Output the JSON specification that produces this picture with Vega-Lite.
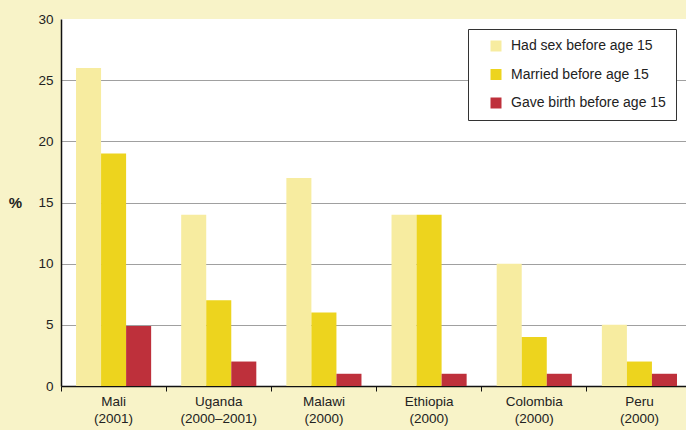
{
  "$schema": "https://vega.github.io/schema/vega-lite/v6.json",
  "autosize": {"type": "none"},
  "width": 625,
  "height": 367,
  "padding": {"left": 61, "top": 19, "right": 0, "bottom": 44},
  "background": "#F8F3C8",
  "config": {
    "view": {"fill": "white", "stroke": null},
    "font": "Liberation Sans"
  },
  "data": {
    "values": [
      {"country": "Mali\n(2001)", "measure": "Had sex before age 15", "value": 26},
      {"country": "Mali\n(2001)", "measure": "Married before age 15", "value": 19},
      {"country": "Mali\n(2001)", "measure": "Gave birth before age 15", "value": 4.9},
      {"country": "Uganda\n(2000–2001)", "measure": "Had sex before age 15", "value": 14},
      {"country": "Uganda\n(2000–2001)", "measure": "Married before age 15", "value": 7},
      {"country": "Uganda\n(2000–2001)", "measure": "Gave birth before age 15", "value": 2},
      {"country": "Malawi\n(2000)", "measure": "Had sex before age 15", "value": 17},
      {"country": "Malawi\n(2000)", "measure": "Married before age 15", "value": 6},
      {"country": "Malawi\n(2000)", "measure": "Gave birth before age 15", "value": 1},
      {"country": "Ethiopia\n(2000)", "measure": "Had sex before age 15", "value": 14},
      {"country": "Ethiopia\n(2000)", "measure": "Married before age 15", "value": 14},
      {"country": "Ethiopia\n(2000)", "measure": "Gave birth before age 15", "value": 1},
      {"country": "Colombia\n(2000)", "measure": "Had sex before age 15", "value": 10},
      {"country": "Colombia\n(2000)", "measure": "Married before age 15", "value": 4},
      {"country": "Colombia\n(2000)", "measure": "Gave birth before age 15", "value": 1},
      {"country": "Peru\n(2000)", "measure": "Had sex before age 15", "value": 5},
      {"country": "Peru\n(2000)", "measure": "Married before age 15", "value": 2},
      {"country": "Peru\n(2000)", "measure": "Gave birth before age 15", "value": 1}
    ]
  },
  "mark": {"type": "bar"},
  "encoding": {
    "x": {
      "field": "country",
      "type": "nominal",
      "sort": null,
      "scale": {"range": [0, 631], "paddingInner": 0, "paddingOuter": 0},
      "axis": {
        "title": null,
        "labelAngle": 0,
        "labelExpr": "split(datum.label, '\\n')",
        "labelFontSize": 13.5,
        "labelLineHeight": 17.5,
        "labelColor": "#222",
        "labelBaseline": "top",
        "labelPadding": 3,
        "bandPosition": 0,
        "tickSize": 5,
        "tickColor": "#111",
        "domainColor": "#111",
        "domainWidth": 1.5,
        "labelOverlap": false
      }
    },
    "xOffset": {
      "field": "measure",
      "type": "nominal",
      "sort": ["Had sex before age 15", "Married before age 15", "Gave birth before age 15"],
      "scale": {"paddingInner": 0, "paddingOuter": 0.6}
    },
    "y": {
      "field": "value",
      "type": "quantitative",
      "scale": {"domain": [0, 30], "nice": false},
      "axis": {
        "values": [0, 5, 10, 15, 20, 25, 30],
        "title": "%",
        "titleAngle": 0,
        "titleX": -46,
        "titleY": 183,
        "titleAlign": "center",
        "titleBaseline": "middle",
        "titleFontSize": 15,
        "titleFontWeight": "bold",
        "titleColor": "#222",
        "labelFontSize": 13.5,
        "labelColor": "#222",
        "labelPadding": 8,
        "ticks": false,
        "domainColor": "#111",
        "domainWidth": 1.5,
        "gridColor": "#A0A0A0",
        "gridWidth": 1,
        "gridOpacity": {"condition": {"test": "datum.value == 30", "value": 0}, "value": 1}
      }
    },
    "color": {
      "field": "measure",
      "type": "nominal",
      "sort": ["Had sex before age 15", "Married before age 15", "Gave birth before age 15"],
      "scale": {
        "domain": ["Had sex before age 15", "Married before age 15", "Gave birth before age 15"],
        "range": ["#F7ECA0", "#EDD41E", "#BE303B"]
      },
      "legend": {
        "title": null,
        "orient": "none",
        "legendX": 407,
        "legendY": 10,
        "padding": 10,
        "fillColor": "white",
        "strokeColor": "#333",
        "symbolType": "square",
        "symbolSize": 121,
        "symbolStrokeWidth": 0,
        "symbolOffset": 11,
        "labelOffset": 8,
        "labelFontSize": 14,
        "labelColor": "#222",
        "rowPadding": 14.5,
        "labelLimit": 300
      }
    }
  }
}
